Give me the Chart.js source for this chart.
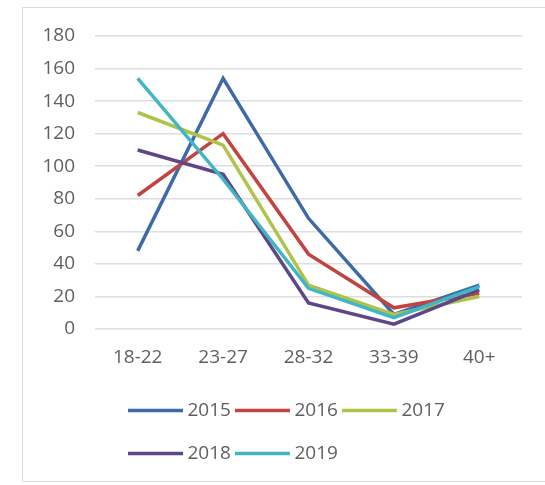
<!DOCTYPE html>
<html>
<head>
<meta charset="utf-8">
<script src="https://cdn.jsdelivr.net/npm/chart.js@4.4.1/dist/chart.umd.min.js"></script>
<style>
  html, body { margin: 0; padding: 0; background: #fff; }
  #wrap { position: relative; width: 545px; height: 485px; overflow: hidden; }
  #frame {
    position: absolute; left: 22px; top: 7px; width: 540px; height: 475px;
    border: 1px solid #dcdcdc; box-sizing: border-box;
  }
  #chart { position: absolute; left: 0; top: 0; }
</style>
</head>
<body>
<div id="wrap">
  <div id="frame"></div>
  <canvas id="chart" width="545" height="485"></canvas>
</div>
<script>
// -- data --
const AGE_GROUPS = ['18-22', '23-27', '28-32', '33-39', '40+'];
const YEARS = ['2015', '2016', '2017', '2018', '2019'];

const VALUES_2015 = [48, 154, 68, 9, 27];
const VALUES_2016 = [82, 120, 46, 13, 22];
const VALUES_2017 = [133, 113, 27, 9, 20];
const VALUES_2018 = [110, 95, 16, 3, 24];
const VALUES_2019 = [154, 92, 25, 7, 26];

const Y_MIN = 0;
const Y_MAX = 180;
const Y_STEP = 20;

const SERIES_COLORS = ['#3f6aa8', '#c24440', '#afc24a', '#5e4689', '#3fb6c4'];
const TEXT_COLOR = '#5f5f5f';
const FONT = { family: "'Open Sans', sans-serif", size: 19 };

const seriesValues = [VALUES_2015, VALUES_2016, VALUES_2017, VALUES_2018, VALUES_2019];

// later years drawn on top, as in the spreadsheet chart
const datasets = YEARS.map((year, i) => ({
    label: year,
    data: seriesValues[i],
    borderColor: SERIES_COLORS[i],
    backgroundColor: SERIES_COLORS[i],
    borderWidth: 3.5,
    pointRadius: 0,
    tension: 0,
    order: YEARS.length - i,
}));

// legend: move the block right and draw line samples in the hit boxes
const legendLines = {
    id: 'legendLines',
    afterLayout(chart) {
        const lg = chart.legend;
        if (!lg) return;
        lg.left += 29;
        lg.right += 29;
    },
    afterDraw(chart) {
        const lg = chart.legend;
        if (!lg || !lg.legendHitBoxes) return;
        const ctx = chart.ctx;
        const boxW = lg.options.labels.boxWidth;
        ctx.save();
        lg.legendItems.forEach((item, i) => {
            const hb = lg.legendHitBoxes[i];
            const y = hb.top + hb.height / 2;
            ctx.strokeStyle = item.lineColor;
            ctx.lineWidth = 3.5;
            ctx.beginPath();
            ctx.moveTo(hb.left, y);
            ctx.lineTo(hb.left + boxW + 5, y);
            ctx.stroke();
        });
        ctx.restore();
    },
};

new Chart(document.getElementById('chart'), {
    type: 'line',
    data: { labels: AGE_GROUPS, datasets },
    options: {
        responsive: false,
        animation: false,
        layout: { padding: { left: 0, top: 36, right: 23, bottom: 2 } },
        plugins: {
            tooltip: { enabled: false },
            legend: {
                position: 'bottom',
                align: 'start',
                fullSize: false,
                labels: {
                    color: TEXT_COLOR,
                    font: FONT,
                    boxWidth: 50,
                    boxHeight: 39,
                    padding: 4,
                    sort: (a, b) => a.datasetIndex - b.datasetIndex,
                    generateLabels: (chart) =>
                        Chart.defaults.plugins.legend.labels.generateLabels(chart).map((l) => ({
                            ...l,
                            lineColor: l.strokeStyle,
                            fillStyle: 'rgba(0,0,0,0)',
                            strokeStyle: 'rgba(0,0,0,0)',
                            lineWidth: 0,
                        })),
                },
            },
        },
        scales: {
            x: {
                offset: true,
                grid: { display: false, drawTicks: false },
                border: { display: false },
                ticks: { color: TEXT_COLOR, font: FONT, padding: 17, maxRotation: 0 },
                afterFit: (scale) => { scale.height = 58; },
            },
            y: {
                min: Y_MIN,
                max: Y_MAX,
                grid: { color: '#dedede', lineWidth: 1.5, drawTicks: false },
                border: { display: false },
                ticks: { stepSize: Y_STEP, color: TEXT_COLOR, font: FONT, padding: 20 },
                afterFit: (scale) => { scale.width = 95; },
            },
        },
    },
    plugins: [legendLines],
});
</script>
</body>
</html>
